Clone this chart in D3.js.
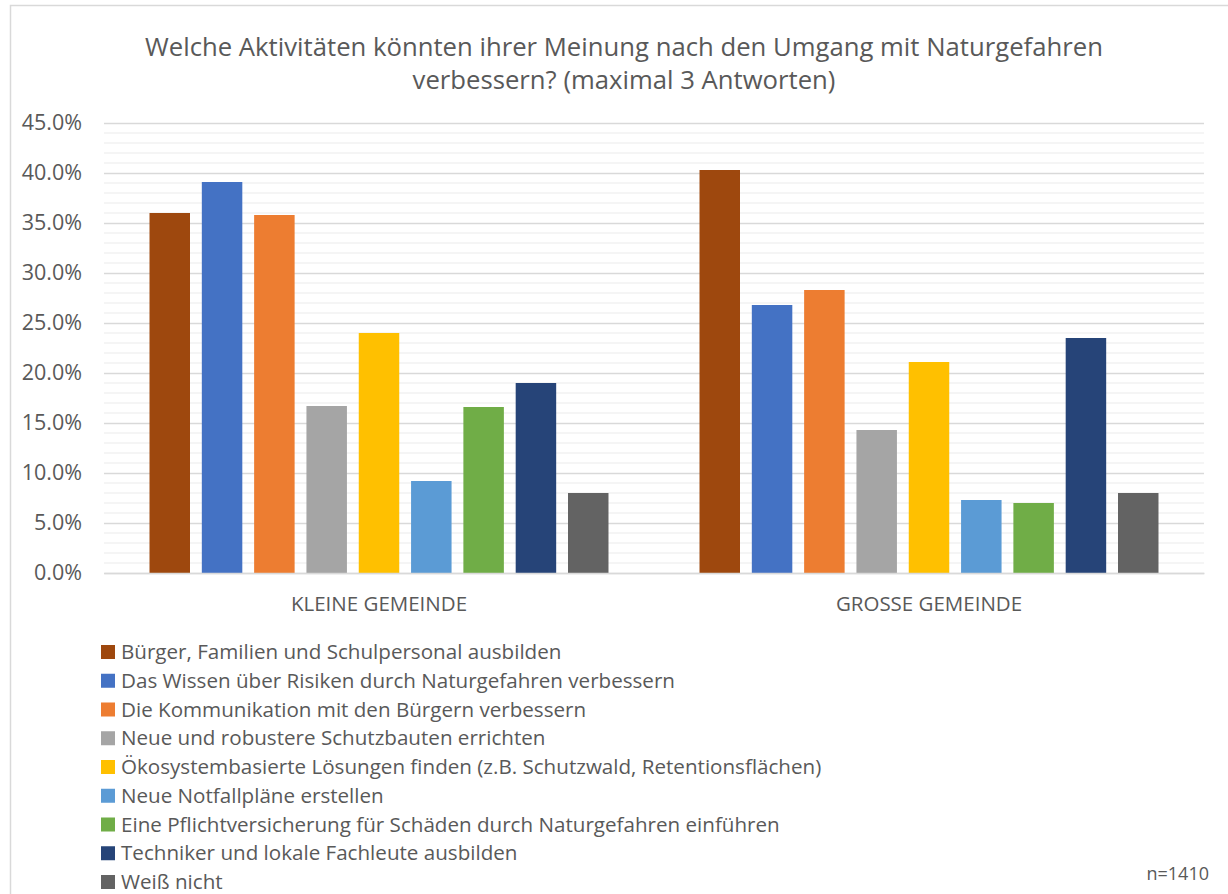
<!DOCTYPE html>
<html>
<head>
<meta charset="utf-8">
<script src="https://cdn.jsdelivr.net/npm/d3@7"></script>
<style>
  html, body { margin: 0; padding: 0; background: #fff; }
  svg { display: block; }
  text { font-family: "Open Sans", "Noto Sans", sans-serif; fill: #595959; }
</style>
</head>
<body>
<svg id="chart" width="1228" height="894"></svg>
<script>
const titleLines = ["Welche Aktivitäten könnten ihrer Meinung nach den Umgang mit Naturgefahren", "verbessern? (maximal 3 Antworten)"];
const groups = ["KLEINE GEMEINDE", "GROSSE GEMEINDE"];
const seriesNames = [
  "Bürger, Familien und Schulpersonal ausbilden",
  "Das Wissen über Risiken durch Naturgefahren verbessern",
  "Die Kommunikation mit den Bürgern verbessern",
  "Neue und robustere Schutzbauten errichten",
  "Ökosystembasierte Lösungen finden (z.B. Schutzwald, Retentionsflächen)",
  "Neue Notfallpläne erstellen",
  "Eine Pflichtversicherung für Schäden durch Naturgefahren einführen",
  "Techniker und lokale Fachleute ausbilden",
  "Weiß nicht"
];
const colors = ["#9E480E", "#4472C4", "#ED7D31", "#A5A5A5", "#FFC000", "#5B9BD5", "#70AD47", "#264478", "#636363"];
const kleineValues = [0.360, 0.391, 0.358, 0.167, 0.240, 0.092, 0.166, 0.190, 0.080];
const grosseValues = [0.403, 0.268, 0.283, 0.143, 0.211, 0.073, 0.070, 0.235, 0.080];
const yTicks = [0, 0.05, 0.10, 0.15, 0.20, 0.25, 0.30, 0.35, 0.40, 0.45];
const noteText = "n=1410";

const valuesByGroup = [kleineValues, grosseValues];
const svg = d3.select("#chart");

// outer chart border
svg.append("rect").attr("x", 10.5).attr("y", 5.5).attr("width", 1240).attr("height", 900)
  .attr("fill", "none").attr("stroke", "#d9d9d9").attr("stroke-width", 1.5);

const plot = { left: 104, right: 1204, top: 123, bottom: 573 };

const y = d3.scaleLinear().domain([0, 0.45]).range([plot.bottom, plot.top]);
const x0 = d3.scaleBand().domain(groups).range([plot.left, plot.right]).padding(0);
const x1 = d3.scaleBand().domain(d3.range(seriesNames.length)).range([0, x0.bandwidth()])
  .paddingInner(0.226).paddingOuter(0.87);

// minor gridlines (every 1%)
const minor = d3.range(1, 45).filter(i => i % 5 !== 0).map(i => i / 100);
svg.append("g").selectAll("line").data(minor).join("line")
  .attr("x1", plot.left).attr("x2", plot.right)
  .attr("y1", d => y(d)).attr("y2", d => y(d))
  .attr("stroke", "#f2f2f2").attr("stroke-width", 1.5);

// major gridlines via axis
const yAxis = d3.axisLeft(y).tickValues(yTicks).tickFormat(d3.format(".1%"))
  .tickSize(-(plot.right - plot.left)).tickPadding(22);
const gy = svg.append("g").attr("transform", `translate(${plot.left},0)`).call(yAxis);
gy.select(".domain").remove();
gy.selectAll(".tick line").attr("stroke", "#d9d9d9").attr("stroke-width", 1.5);
gy.selectAll(".tick text").attr("font-size", 21.5).attr("fill", "#595959")
  .style("font-family", "'Open Sans', sans-serif");

// bars
const gGroups = svg.append("g").selectAll("g").data(groups).join("g")
  .attr("transform", d => `translate(${x0(d)},0)`);
gGroups.selectAll("rect").data((g, gi) => valuesByGroup[gi].map((v, i) => ({ v, i })))
  .join("rect")
  .attr("x", d => x1(d.i))
  .attr("width", x1.bandwidth())
  .attr("y", d => y(d.v))
  .attr("height", d => y(0) - y(d.v))
  .attr("fill", d => colors[d.i]);

// x axis
const xAxis = d3.axisBottom(x0).tickSize(0).tickPadding(23);
const gx = svg.append("g").attr("transform", `translate(0,${plot.bottom})`).call(xAxis);
gx.select(".domain").attr("stroke", "#d9d9d9").attr("stroke-width", 1.5);
gx.selectAll(".tick text").attr("font-size", 20.5).attr("fill", "#595959")
  .style("font-family", "'Open Sans', sans-serif");

// title
svg.append("g").selectAll("text").data(titleLines).join("text")
  .attr("x", 624).attr("y", (d, i) => 56 + i * 33)
  .attr("text-anchor", "middle").attr("font-size", 25.7)
  .text(d => d);

// legend
const legend = svg.append("g").selectAll("g").data(seriesNames).join("g")
  .attr("transform", (d, i) => `translate(101,${652 + i * 28.75})`);
legend.append("rect").attr("x", 0).attr("y", -7).attr("width", 14).attr("height", 14)
  .attr("fill", (d, i) => colors[i]);
legend.append("text").attr("x", 20).attr("y", 0).attr("dy", "0.35em")
  .attr("font-size", 20.6).text(d => d);

// note
svg.append("text").attr("x", 1209).attr("y", 880).attr("text-anchor", "end")
  .attr("font-size", 18).text(noteText);
</script>
</body>
</html>
